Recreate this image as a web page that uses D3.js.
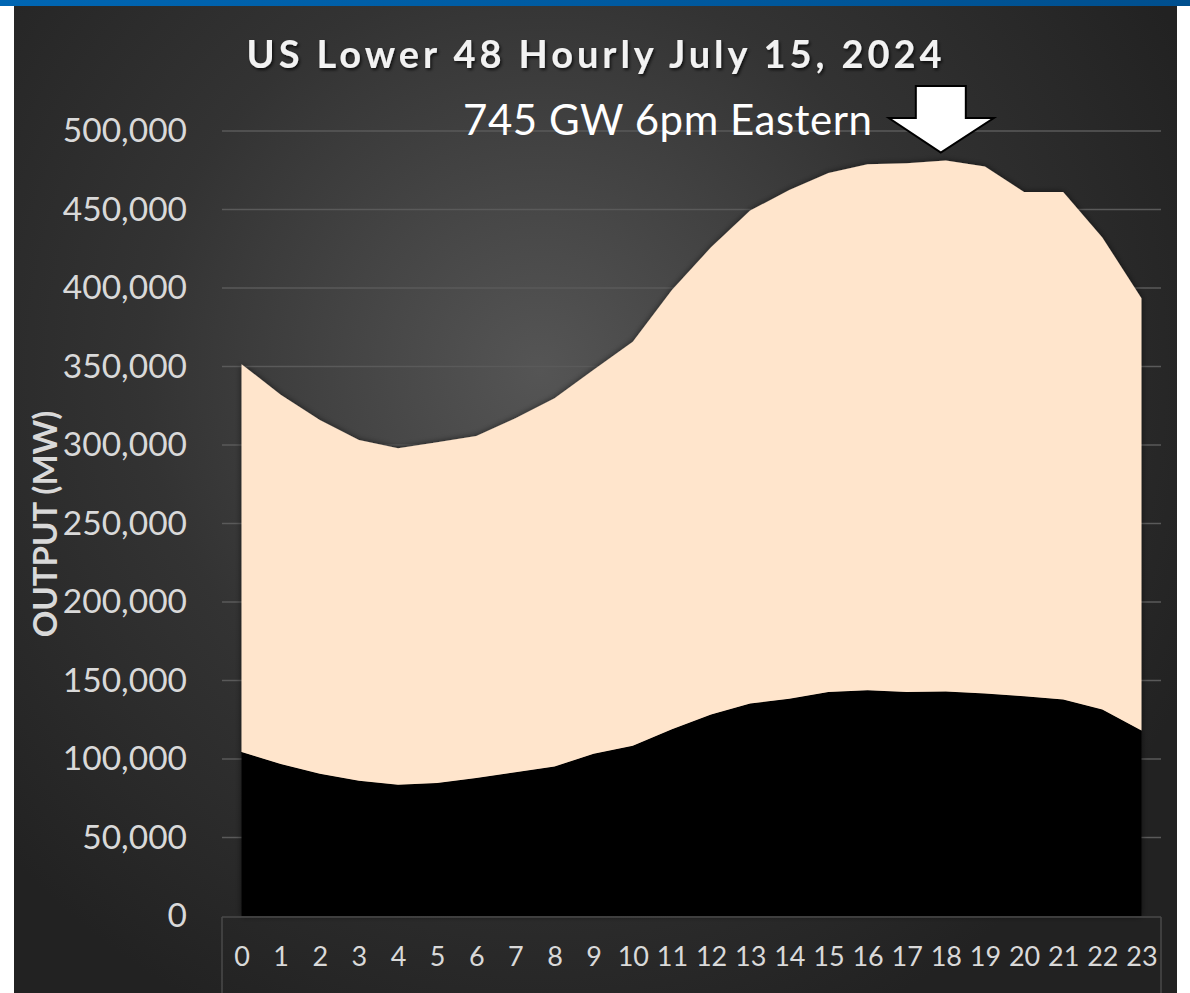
<!DOCTYPE html>
<html>
<head>
<meta charset="utf-8">
<script src="https://cdn.jsdelivr.net/npm/d3@7"></script>
<style>
  html, body { margin: 0; padding: 0; background: #fff; }
  svg { display: block; }
</style>
</head>
<body>
<div id="wrapper"></div>
<script>
// hours of the day
const hours = d3.range(0, 24);

// lower (black) series, MW
const lowerMW = [104500, 96800, 90600, 86200, 83600, 84700, 87900, 91500, 95300, 103400, 108500, 118900,
                 128300, 135300, 138300, 142600, 143800, 142600, 143000, 141700, 140000, 137900, 131500, 118100];

// upper (peach) series stacked on top, MW
const upperMW = [247000, 235200, 225400, 217000, 214300, 217000, 217800, 225500, 234500, 244500, 257300, 279800,
                 297700, 314000, 324200, 330700, 335100, 336900, 338200, 335700, 321100, 323200, 300700, 275400];

const yTicks = d3.range(0, 500001, 50000);

const chartTitle = "US Lower 48 Hourly July 15, 2024";
const noteText = "745 GW 6pm Eastern";
const yTitle = "OUTPUT (MW)";
const peakHour = 18;

const width = 1190;
const height = 993;
const plot = {left: 222, right: 1161, top: 131, bottom: 916};

const svg = d3.select("#wrapper")
  .append("svg")
    .attr("width", width)
    .attr("height", height)
    .style("font-family", "Lato, 'Open Sans', sans-serif");

const defs = svg.append("defs");

const bg = defs.append("radialGradient")
    .attr("id", "bg")
    .attr("gradientUnits", "userSpaceOnUse")
    .attr("cx", 540).attr("cy", 370).attr("r", 720);
bg.append("stop").attr("offset", "0%").attr("stop-color", "#555555");
bg.append("stop").attr("offset", "55%").attr("stop-color", "#333333");
bg.append("stop").attr("offset", "100%").attr("stop-color", "#222222");

const band = defs.append("linearGradient").attr("id", "band");
band.append("stop").attr("offset", "0%").attr("stop-color", "#0066b3");
band.append("stop").attr("offset", "100%").attr("stop-color", "#004f8e");

const shadow = defs.append("filter").attr("id", "shadow")
    .attr("x", "-10%").attr("y", "-10%").attr("width", "120%").attr("height", "120%");
shadow.append("feDropShadow")
    .attr("dx", 0).attr("dy", 0).attr("stdDeviation", 3)
    .attr("flood-color", "#000").attr("flood-opacity", 0.6);

const textShadow = defs.append("filter").attr("id", "tshadow");
textShadow.append("feDropShadow")
    .attr("dx", 1.5).attr("dy", 2).attr("stdDeviation", 1.5)
    .attr("flood-color", "#000").attr("flood-opacity", 0.7);

// panel + top band
svg.append("rect")
    .attr("x", 14).attr("y", 5)
    .attr("width", 1163).attr("height", height - 5)
    .attr("fill", "url(#bg)");

svg.append("rect")
    .attr("x", 0).attr("y", 0)
    .attr("width", width).attr("height", 6)
    .attr("fill", "url(#band)");

const x = d3.scalePoint()
    .domain(hours)
    .range([plot.left, plot.right])
    .padding(0.5);

const y = d3.scaleLinear()
    .domain([0, 500000])
    .range([plot.bottom, plot.top]);

// gridlines
svg.append("g")
  .selectAll("line")
  .data(yTicks.slice(1))
  .join("line")
    .attr("x1", plot.left).attr("x2", plot.right)
    .attr("y1", d => y(d)).attr("y2", d => y(d))
    .attr("stroke", "#5a5a5a")
    .attr("stroke-width", 1.5);

// stacked areas
const table = hours.map((h, i) => ({hour: h, lower: lowerMW[i], upper: upperMW[i]}));
const stacked = d3.stack().keys(["lower", "upper"])(table);

const area = d3.area()
    .x(d => x(d.data.hour))
    .y0(d => y(d[0]))
    .y1(d => y(d[1]));

const colors = {lower: "#000000", upper: "#ffe5cc"};

svg.append("g")
    .attr("filter", "url(#shadow)")
  .selectAll("path")
  .data(stacked)
  .join("path")
    .attr("d", area)
    .attr("fill", d => colors[d.key]);

// x axis box
const axisBox = svg.append("g")
    .attr("stroke", "#4a4a4a")
    .attr("stroke-width", 1.5);
axisBox.append("line").attr("x1", plot.left).attr("x2", plot.right).attr("y1", plot.bottom + 1).attr("y2", plot.bottom + 1);
axisBox.append("line").attr("x1", plot.left).attr("x2", plot.left).attr("y1", plot.bottom + 1).attr("y2", height);
axisBox.append("line").attr("x1", plot.right).attr("x2", plot.right).attr("y1", plot.bottom + 1).attr("y2", height);

// x axis labels
const xAxis = svg.append("g")
    .attr("transform", `translate(0,${plot.bottom})`)
    .call(d3.axisBottom(x).tickSize(0).tickPadding(31));
xAxis.select(".domain").remove();
xAxis.selectAll("text")
    .attr("fill", "#d9d9d9")
    .style("font-family", "Lato, sans-serif")
    .style("font-size", "27px");

// y axis labels
const yAxis = svg.append("g")
    .attr("transform", `translate(${plot.left},0)`)
    .call(d3.axisLeft(y).tickValues(yTicks).tickFormat(d3.format(",")).tickSize(0).tickPadding(35));
yAxis.select(".domain").remove();
yAxis.selectAll("text")
    .attr("fill", "#d9d9d9")
    .style("font-family", "Lato, sans-serif")
    .style("font-size", "33.5px");

// y axis title
svg.append("text")
    .attr("transform", "translate(57,524) rotate(-90)")
    .attr("text-anchor", "middle")
    .attr("fill", "#d9d9d9")
    .style("font-size", "33px")
    .style("font-weight", "bold")
    .text(yTitle);

// title
svg.append("text")
    .attr("x", 594).attr("y", 68)
    .attr("text-anchor", "middle")
    .attr("fill", "#f2f2f2")
    .attr("filter", "url(#tshadow)")
    .attr("textLength", 695)
    .attr("lengthAdjust", "spacing")
    .style("font-size", "38px")
    .style("font-weight", "bold")
    .text(chartTitle);

// annotation
svg.append("text")
    .attr("x", 463).attr("y", 135)
    .attr("fill", "#ffffff")
    .attr("textLength", 409)
    .attr("lengthAdjust", "spacing")
    .style("font-size", "42px")
    .text(noteText);

// block arrow pointing at the peak hour
const ax = x(peakHour) - 5;
const tipY = y(upperMW[peakHour] + lowerMW[peakHour]) - 8;
const arrow = d3.path();
arrow.moveTo(ax - 25, 86);
arrow.lineTo(ax + 25, 86);
arrow.lineTo(ax + 25, 118);
arrow.lineTo(ax + 53, 118);
arrow.lineTo(ax, tipY);
arrow.lineTo(ax - 52, 118);
arrow.lineTo(ax - 25, 118);
arrow.closePath();
svg.append("path")
    .attr("d", arrow.toString())
    .attr("fill", "#ffffff")
    .attr("stroke", "#000000")
    .attr("stroke-width", 2)
    .attr("stroke-linejoin", "miter");
</script>
</body>
</html>
